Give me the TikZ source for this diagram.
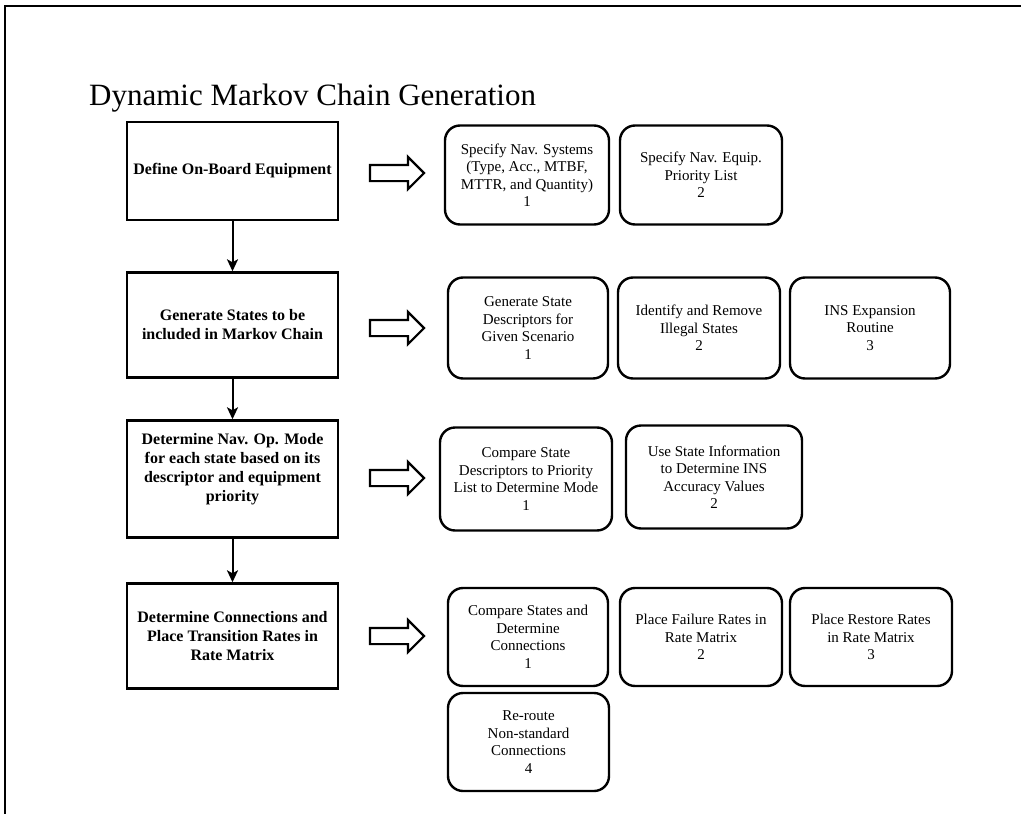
\documentclass[tikz,border=0pt]{standalone}
\usepackage{fontspec}
\setmainfont{Liberation Serif}
\usetikzlibrary{arrows.meta,shapes.arrows}

\begin{document}
\begin{tikzpicture}[x=1pt, y=-1pt]
    \useasboundingbox (0,0) rectangle (1021,814);
    \draw[line width=2.5pt] (1021,6) -- (5,6) -- (5,814);

    \node[anchor=base west, inner sep=0pt, font=\fontsize{31}{35}\selectfont] (title) at (89,105) {Dynamic Markov Chain Generation};

    \tikzset{StepStyle/.style={draw, line width=2.4pt, align=center, inner sep=2pt, minimum width=211pt, font=\fontsize{16}{19}\selectfont\bfseries}}
    \node[StepStyle, minimum height=98pt]  (def)  at (232.5,171) {Define On-Board Equipment};
    \node[StepStyle, minimum height=105pt] (gen)  at (232.5,325) {Generate States to be\\included in Markov Chain};
    \node[StepStyle, minimum height=117pt] (mode) at (232.5,479) {Determine Nav. Op. Mode\\for each state based on its\\descriptor and equipment\\priority\\[4pt]\mbox{}};
    \node[StepStyle, minimum height=105pt] (conn) at (232.5,636) {Determine Connections and\\Place Transition Rates in\\Rate Matrix};

    \tikzset{PushStyle/.style={draw, line width=2.2pt, single arrow, single arrow head extend=8pt, single arrow tip angle=90, minimum height=54pt, inner sep=7pt}}
    \node[PushStyle] (pdef)  at (393,173) {};
    \node[PushStyle] (pgen)  at (393,328) {};
    \node[PushStyle] (pmode) at (393,478) {};
    \node[PushStyle] (pconn) at (393,636) {};

    \tikzset{TaskStyle/.style={draw, line width=2.4pt, rounded corners=15pt, align=center, inner sep=2pt, font=\fontsize{15}{17.5}\selectfont}}
    \node[TaskStyle, minimum width=164pt, minimum height=99pt]  (def1)  at (527,175)   {Specify Nav. Systems\\(Type, Acc., MTBF,\\MTTR, and Quantity)\\1};
    \node[TaskStyle, minimum width=162pt, minimum height=99pt]  (def2)  at (701,175)   {Specify Nav. Equip.\\Priority List\\2};

    \node[TaskStyle, minimum width=160pt, minimum height=101pt] (gen1)  at (528,328)   {Generate State\\Descriptors for\\Given Scenario\\1};
    \node[TaskStyle, minimum width=162pt, minimum height=101pt] (gen2)  at (699,328)   {Identify and Remove\\Illegal States\\2};
    \node[TaskStyle, minimum width=160pt, minimum height=101pt] (gen3)  at (870,328)   {INS Expansion\\Routine\\3};

    \node[TaskStyle, minimum width=172pt, minimum height=103pt] (mode1) at (526,479)   {Compare State\\Descriptors to Priority\\List to Determine Mode\\1};
    \node[TaskStyle, minimum width=176pt, minimum height=103pt] (mode2) at (714,477)   {Use State Information\\to Determine INS\\Accuracy Values\\2};

    \node[TaskStyle, minimum width=160pt, minimum height=98pt]  (conn1) at (528,637)   {Compare States and\\Determine\\Connections\\1};
    \node[TaskStyle, minimum width=162pt, minimum height=98pt]  (conn2) at (701,637)   {Place Failure Rates in\\Rate Matrix\\2};
    \node[TaskStyle, minimum width=162pt, minimum height=98pt]  (conn3) at (871,637)   {Place Restore Rates\\in Rate Matrix\\3};
    \node[TaskStyle, minimum width=161pt, minimum height=98pt]  (conn4) at (528.5,742) {Re-route\\Non-standard\\Connections\\4};

    \tikzset{FlowStyle/.style={-{Stealth[length=12pt, width=11pt, inset=3pt]}, line width=2pt}}
    \draw[FlowStyle] (def)  -- (gen);
    \draw[FlowStyle] (gen)  -- (mode);
    \draw[FlowStyle] (mode) -- (conn);
\end{tikzpicture}
\end{document}
